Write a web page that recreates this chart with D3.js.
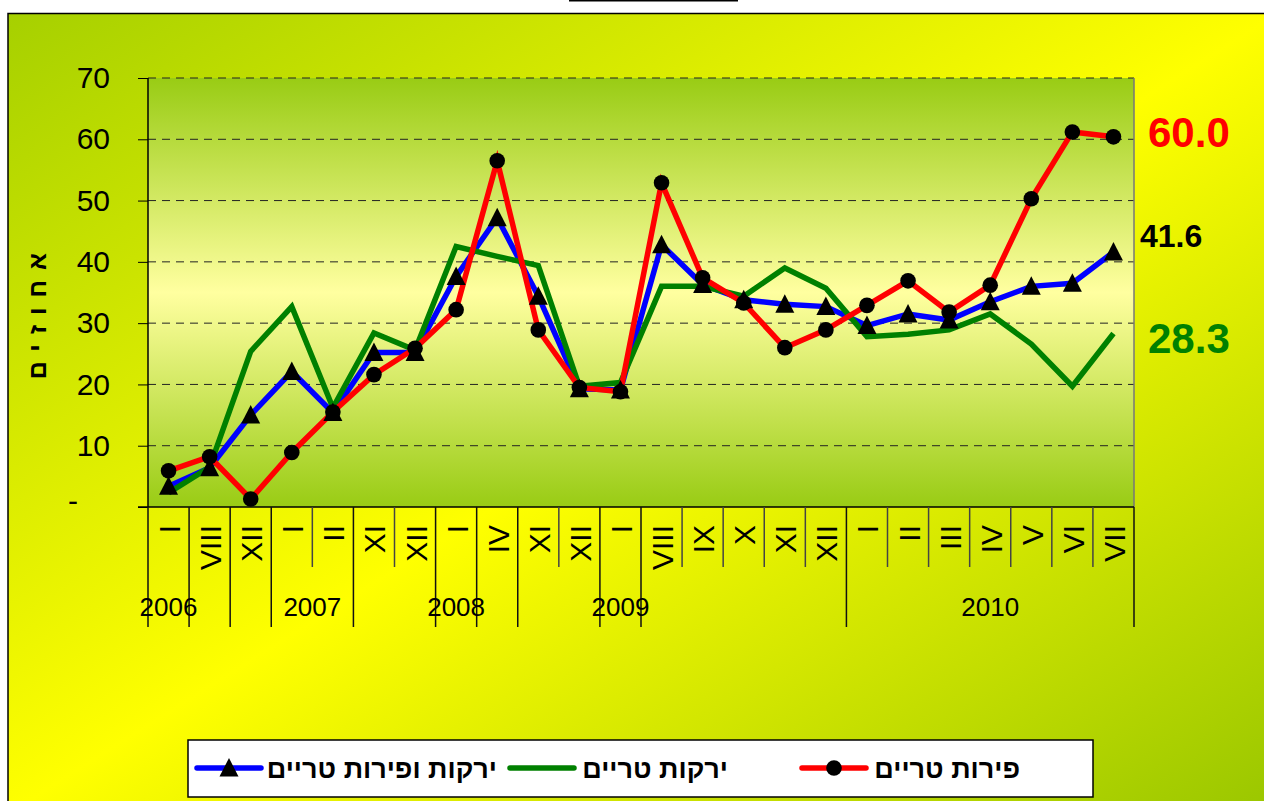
<!DOCTYPE html>
<html><head><meta charset="utf-8">
<script src="https://cdn.jsdelivr.net/npm/d3@7"></script>
<style>body{margin:0;background:#fff}svg{display:block}text{font-family:"Liberation Sans",Arial,sans-serif}</style>
</head><body><svg id="c" width="1264" height="801"></svg>
<script>
const categories = ["I","VIII","XII","I","II","XI","XII","I","IV","XI","XII","I","VIII","IX","X","XI","XII","I","II","III","IV","V","VI","VII"];
const yearLabels = ["2006","","","2007","","2008","","","2009","","2010"];
const yearSpans  = [1,1,1,2,2,1,1,2,1,5,7];
const fruit    = [5.9,8.2,1.3,8.9,15.5,21.6,25.9,32.2,56.5,28.9,19.5,18.8,52.9,37.4,33.3,26.0,28.9,32.9,36.9,31.8,36.2,50.3,61.2,60.4];
const vegFruit = [3.4,6.4,15.0,22.1,15.4,25.2,25.2,37.6,47.2,34.4,19.3,19.1,42.8,36.3,33.8,33.1,32.7,29.6,31.5,30.5,33.5,36.0,36.5,41.6];
const veg      = [2.3,6.5,25.4,32.7,16.2,28.4,25.6,42.5,40.9,39.4,19.7,20.3,36.0,36.0,34.4,39.0,35.7,27.8,28.2,28.9,31.5,26.6,19.7,28.3];
const yTicks = [0,10,20,30,40,50,60,70];
const yTickLabels = ["-","10","20","30","40","50","60","70"];
const seriesNames = ["פירות טריים","ירקות טריים","ירקות ופירות טריים"];
const endLabels = ["60.0","41.6","28.3"];
const yTitle = "אחוזים";

const svg = d3.select("#c");
const defs = svg.append("defs");
const g1 = defs.append("linearGradient").attr("id","bg").attr("x1",0).attr("y1",0).attr("x2",1).attr("y2",1);
g1.append("stop").attr("offset",0).attr("stop-color","#a6d000");
g1.append("stop").attr("offset",0.5).attr("stop-color","#ffff00");
g1.append("stop").attr("offset",1).attr("stop-color","#99c600");
const g2 = defs.append("linearGradient").attr("id","pl").attr("x1",0).attr("y1",0).attr("x2",0).attr("y2",1);
g2.append("stop").attr("offset",0).attr("stop-color","#99cc14");
g2.append("stop").attr("offset",0.5).attr("stop-color","#ffffa0");
g2.append("stop").attr("offset",1).attr("stop-color","#99cc14");

// outer chart area
svg.append("rect").attr("x",8).attr("y",13.5).attr("width",1270).attr("height",800)
  .attr("fill","url(#bg)").attr("stroke","#000").attr("stroke-width",1.5);
svg.append("line").attr("x1",569).attr("x2",738).attr("y1",0.5).attr("y2",0.5).attr("stroke","#000").attr("stroke-width",2);

const L=148, R=1134, T=78, B=507;
const x = d3.scaleBand().domain(d3.range(categories.length)).range([L,R]).padding(0);
const cx = i => x(i) + x.bandwidth()/2;
const y = d3.scaleLinear().domain([0,70]).range([B,T]);

svg.append("rect").attr("x",L).attr("y",T).attr("width",R-L).attr("height",B-T).attr("fill","url(#pl)");

// gridlines
svg.append("g").selectAll("line").data(yTicks.filter(d=>d>0)).join("line")
  .attr("x1",L).attr("x2",R).attr("y1",d=>y(d)).attr("y2",d=>y(d))
  .attr("stroke","#222").attr("stroke-width",1).attr("stroke-dasharray","8,6");
svg.append("line").attr("x1",R).attr("x2",R).attr("y1",T).attr("y2",B).attr("stroke","#777").attr("stroke-width",1.5);

// y axis
const ya = svg.append("g").attr("transform",`translate(${L},0)`)
  .call(d3.axisLeft(y).tickValues(yTicks).tickSize(10).tickFormat((d,i)=>yTickLabels[i]));
ya.select(".domain").remove();
ya.selectAll(".tick line").attr("stroke","#000");
ya.selectAll(".tick text").attr("font-size",30).attr("fill","#000").attr("x",-38)
  .style("font-family",'"Liberation Sans",Arial,sans-serif');
ya.selectAll(".tick text").filter((d)=>d===0).attr("x",-70).attr("dy","0.1em");
svg.append("line").attr("x1",L).attr("x2",L).attr("y1",T).attr("y2",B).attr("stroke","#000").attr("stroke-width",1.5);

// x axis
svg.append("line").attr("x1",L-10).attr("x2",R).attr("y1",B).attr("y2",B).attr("stroke","#000").attr("stroke-width",1.5);
const starts=[]; let acc=0; yearSpans.forEach(s=>{starts.push(acc); acc+=s;});
const longSet = new Set([...starts, categories.length]);
const bounds = d3.range(categories.length+1);
svg.append("g").selectAll("line").data(bounds).join("line")
  .attr("x1",i=>i<categories.length? x(i):R).attr("x2",i=>i<categories.length? x(i):R)
  .attr("y1",B).attr("y2",i=>longSet.has(i)?627:567)
  .attr("stroke",i=>longSet.has(i)?"#111":"#444").attr("stroke-width",1.5);
svg.append("g").selectAll("text").data(categories).join("text")
  .attr("transform",(d,i)=>`translate(${cx(i)+1},525) rotate(-90)`)
  .attr("text-anchor","end").attr("dy","0.35em").attr("font-size",30).text(d=>d);
svg.append("g").selectAll("text").data(yearLabels).join("text")
  .attr("x",(d,i)=>(x(starts[i]) + (starts[i]+yearSpans[i]<categories.length? x(starts[i]+yearSpans[i]) : R))/2)
  .attr("y",616).attr("text-anchor","middle").attr("font-size",26).text(d=>d);

// y title
svg.append("text").attr("transform","translate(37,311) rotate(-90)")
  .attr("text-anchor","middle").attr("dy","0.35em").attr("font-size",25).attr("font-weight","bold")
  .attr("letter-spacing","10px").text(yTitle);

// lines
const line = d3.line().x((d,i)=>cx(i)).y(d=>y(d));
const series = [
  {vals:vegFruit, color:"#0000ff", marker:"tri"},
  {vals:veg, color:"#008000", marker:null},
  {vals:fruit, color:"#ff0000", marker:"circ"}
];
series.forEach(s=>{
  svg.append("path").datum(s.vals).attr("d",line).attr("fill","none")
    .attr("stroke",s.color).attr("stroke-width",5.5).attr("stroke-linejoin","miter");
});
const tri = "M0,-10L9.5,8.5L-9.5,8.5Z";
series.forEach(s=>{
  if(s.marker==="tri"){
    svg.append("g").selectAll("path").data(s.vals).join("path")
      .attr("transform",(d,i)=>`translate(${cx(i)},${y(d)})`).attr("d",tri).attr("fill","#000");
  } else if(s.marker==="circ"){
    svg.append("g").selectAll("circle").data(s.vals).join("circle")
      .attr("cx",(d,i)=>cx(i)).attr("cy",d=>y(d)).attr("r",7.8).attr("fill","#000");
  }
});

// end labels
const endPos = [{x:1148,y:147,size:42,color:"#ff0000"},{x:1140,y:247,size:32,color:"#000"},{x:1148,y:353,size:42,color:"#008000"}];
endLabels.forEach((t,i)=>{
  svg.append("text").attr("x",endPos[i].x).attr("y",endPos[i].y).attr("font-size",endPos[i].size)
    .attr("font-weight","bold").attr("fill",endPos[i].color).text(t);
});

// legend
svg.append("rect").attr("x",188).attr("y",740).attr("width",905).attr("height",57)
  .attr("fill","#fff").attr("stroke","#000").attr("stroke-width",1.5);
const legItems = [
  {name:seriesNames[0], color:"#ff0000", marker:"circ", lx:802, tx:1020},
  {name:seriesNames[1], color:"#008000", marker:null, lx:510, tx:728},
  {name:seriesNames[2], color:"#0000ff", marker:"tri", lx:197, tx:497}
];
legItems.forEach(it=>{
  svg.append("line").attr("x1",it.lx).attr("x2",it.lx+64).attr("y1",768).attr("y2",768)
    .attr("stroke",it.color).attr("stroke-width",5.5).attr("stroke-linecap","round");
  if(it.marker==="circ") svg.append("circle").attr("cx",it.lx+32).attr("cy",768).attr("r",7.8).attr("fill","#000");
  if(it.marker==="tri") svg.append("path").attr("transform",`translate(${it.lx+32},768)`).attr("d",tri).attr("fill","#000");
  svg.append("text").attr("x",it.tx).attr("y",778).attr("text-anchor","end")
    .attr("font-size",27).attr("font-weight","bold").text(it.name);
});
</script></body></html>
